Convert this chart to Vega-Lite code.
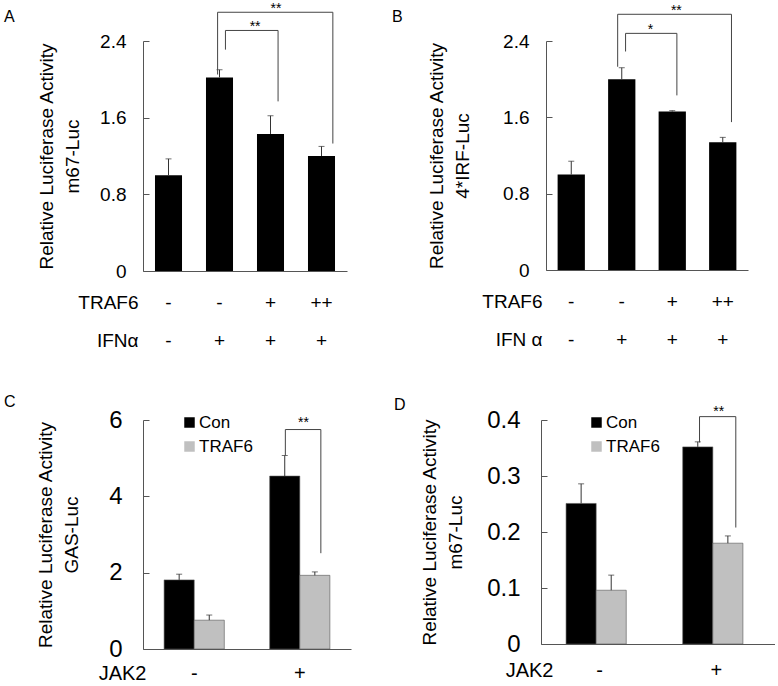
{
  "$schema": "https://vega.github.io/schema/vega-lite/v6.json",
  "padding": {"left": 4, "top": 2, "right": 0, "bottom": 0},
  "config": {
    "font": "Liberation Sans",
    "view": {"stroke": null},
    "axis": {"grid": false, "domainColor": "#555", "tickColor": "#555", "labelColor": "#000", "titleColor": "#000", "titleFontWeight": "normal", "labelFont": "Liberation Sans", "titleFont": "Liberation Sans"},
    "title": {"fontWeight": "normal", "fontSize": 16, "anchor": "start", "frame": "group", "font": "Liberation Sans"},
    "legend": {"labelFont": "Liberation Sans"}
  },
  "resolve": {"scale": {"color": "independent"}, "legend": {"color": "independent"}},
  "datasets": {
    "A": [
      {"cond": "-|-", "mean": 1.0, "upper": 1.17},
      {"cond": "-|+", "mean": 2.02, "upper": 2.1},
      {"cond": "+|+", "mean": 1.43, "upper": 1.62},
      {"cond": "++|+", "mean": 1.2, "upper": 1.3}
    ],
    "A_sig": [
      {"kind": "inner", "from": "-|+", "to": "+|+", "mid": "+|+", "top": 2.51, "left": 2.31, "right": 1.77, "label": "**"},
      {"kind": "outer", "from": "-|+", "to": "++|+", "mid": "+|+", "top": 2.7, "left": 2.05, "right": 1.33, "label": "**"}
    ],
    "B": [
      {"cond": "-|-", "mean": 1.0, "upper": 1.14},
      {"cond": "-|+", "mean": 2.0, "upper": 2.12},
      {"cond": "+|+", "mean": 1.66, "upper": 1.67},
      {"cond": "++|+", "mean": 1.34, "upper": 1.39}
    ],
    "B_sig": [
      {"kind": "inner", "from": "-|+", "to": "+|+", "mid": "+|+", "top": 2.48, "left": 2.29, "right": 1.83, "label": "*"},
      {"kind": "outer", "from": "-|+", "to": "++|+", "mid": "+|+", "top": 2.68, "left": 2.13, "right": 1.55, "label": "**"}
    ],
    "C": [
      {"jak2": "-", "group": "Con", "mean": 1.81, "upper": 1.96},
      {"jak2": "-", "group": "TRAF6", "mean": 0.755, "upper": 0.89},
      {"jak2": "+", "group": "Con", "mean": 4.53, "upper": 5.07},
      {"jak2": "+", "group": "TRAF6", "mean": 1.93, "upper": 2.02}
    ],
    "C_sig": [
      {"from": "+", "to": "+", "mid": "+", "top": 5.75, "left": 5.07, "right": 2.51, "label": "**"}
    ],
    "D": [
      {"jak2": "-", "group": "Con", "mean": 0.251, "upper": 0.286},
      {"jak2": "-", "group": "TRAF6", "mean": 0.096, "upper": 0.123},
      {"jak2": "+", "group": "Con", "mean": 0.352, "upper": 0.361},
      {"jak2": "+", "group": "TRAF6", "mean": 0.18, "upper": 0.193}
    ],
    "D_sig": [
      {"from": "+", "to": "+", "mid": "+", "top": 0.406, "left": 0.36, "right": 0.208, "label": "**"}
    ]
  },
  "spacing": 44,
  "vconcat": [
    {
      "spacing": 45,
      "resolve": {"scale": {"color": "independent"}, "legend": {"color": "independent"}},
      "hconcat": [
        {
          "width": 204, "height": 230,
          "title": {"text": "A", "dx": -139, "dy": 27},
          "layer": [
            {"data": {"name": "A"}, "mark": {"type": "bar", "color": "#000"},
             "encoding": {
               "x": {"field": "cond", "type": "nominal", "sort": null,
                     "scale": {"domain": ["-|-", "-|+", "+|+", "++|+"], "paddingInner": 0.47, "paddingOuter": 0.235},
                     "axis": {"labelExpr": "split(datum.label, '|')", "labelAngle": 0, "labelFontSize": 19, "labelLineHeight": 38, "labelPadding": 22, "ticks": false,
                              "title": ["TRAF6", "IFNα"], "titleFontSize": 19, "titleLineHeight": 38, "titleAlign": "right", "titleBaseline": "top", "titleX": -5, "titleY": 22}},
               "y": {"field": "mean", "type": "quantitative", "scale": {"domain": [0, 2.4]},
                     "axis": {"values": [0, 0.8, 1.6, 2.4], "format": ".1~f", "labelFontSize": 19, "tickSize": -6, "labelPadding": 23,
                              "title": ["Relative Luciferase Activity", "m67-Luc"], "titleFontSize": 19, "titleLineHeight": 26, "titlePadding": 17}}
             }},
            {"data": {"name": "A"}, "mark": {"type": "rule", "color": "#333"},
             "encoding": {"x": {"field": "cond", "type": "nominal"}, "y": {"field": "mean", "type": "quantitative"}, "y2": {"field": "upper"}}},
            {"data": {"name": "A"}, "mark": {"type": "tick", "color": "#333", "size": 6, "thickness": 1, "orient": "horizontal"},
             "encoding": {"x": {"field": "cond", "type": "nominal"}, "y": {"field": "upper", "type": "quantitative"}}},
            {"data": {"name": "A_sig"}, "transform": [{"filter": "datum.kind == 'inner'"}], "mark": {"type": "rule", "color": "#444"},
             "encoding": {"x": {"field": "from", "type": "nominal", "bandPosition": 0.72}, "x2": {"field": "to", "bandPosition": 0.78}, "y": {"field": "top", "type": "quantitative"}}},
            {"data": {"name": "A_sig"}, "transform": [{"filter": "datum.kind == 'inner'"}], "mark": {"type": "rule", "color": "#444"},
             "encoding": {"x": {"field": "from", "type": "nominal", "bandPosition": 0.72}, "y": {"field": "top", "type": "quantitative"}, "y2": {"field": "left"}}},
            {"data": {"name": "A_sig"}, "transform": [{"filter": "datum.kind == 'inner'"}], "mark": {"type": "rule", "color": "#444"},
             "encoding": {"x": {"field": "to", "type": "nominal", "bandPosition": 0.78}, "y": {"field": "top", "type": "quantitative"}, "y2": {"field": "right"}}},
            {"data": {"name": "A_sig"}, "transform": [{"filter": "datum.kind == 'inner'"}], "mark": {"type": "text", "fontSize": 14, "baseline": "alphabetic", "dy": 1},
             "encoding": {"x": {"field": "mid", "type": "nominal", "bandPosition": -0.07}, "y": {"field": "top", "type": "quantitative"}, "text": {"field": "label"}}},
            {"data": {"name": "A_sig"}, "transform": [{"filter": "datum.kind == 'outer'"}], "mark": {"type": "rule", "color": "#444"},
             "encoding": {"x": {"field": "from", "type": "nominal", "bandPosition": 0.43}, "x2": {"field": "to", "bandPosition": 0.92}, "y": {"field": "top", "type": "quantitative"}}},
            {"data": {"name": "A_sig"}, "transform": [{"filter": "datum.kind == 'outer'"}], "mark": {"type": "rule", "color": "#444"},
             "encoding": {"x": {"field": "from", "type": "nominal", "bandPosition": 0.43}, "y": {"field": "top", "type": "quantitative"}, "y2": {"field": "left"}}},
            {"data": {"name": "A_sig"}, "transform": [{"filter": "datum.kind == 'outer'"}], "mark": {"type": "rule", "color": "#444"},
             "encoding": {"x": {"field": "to", "type": "nominal", "bandPosition": 0.92}, "y": {"field": "top", "type": "quantitative"}, "y2": {"field": "right"}}},
            {"data": {"name": "A_sig"}, "transform": [{"filter": "datum.kind == 'outer'"}], "mark": {"type": "text", "fontSize": 14, "baseline": "alphabetic", "dy": 1},
             "encoding": {"x": {"field": "mid", "type": "nominal", "bandPosition": 0.7}, "y": {"field": "top", "type": "quantitative"}, "text": {"field": "label"}}}
          ]
        },
        {
          "width": 202, "height": 229,
          "title": {"text": "B", "dx": -154, "dy": 25},
          "layer": [
            {"data": {"name": "B"}, "mark": {"type": "bar", "color": "#000"},
             "encoding": {
               "x": {"field": "cond", "type": "nominal", "sort": null,
                     "scale": {"domain": ["-|-", "-|+", "+|+", "++|+"], "paddingInner": 0.46, "paddingOuter": 0.23},
                     "axis": {"labelExpr": "split(datum.label, '|')", "labelAngle": 0, "labelFontSize": 19, "labelLineHeight": 38, "labelPadding": 22, "ticks": false,
                              "title": ["TRAF6", "IFN α"], "titleFontSize": 19, "titleLineHeight": 38, "titleAlign": "right", "titleBaseline": "top", "titleX": -4, "titleY": 22}},
               "y": {"field": "mean", "type": "quantitative", "scale": {"domain": [0, 2.4]},
                     "axis": {"values": [0, 0.8, 1.6, 2.4], "format": ".1~f", "labelFontSize": 19, "tickSize": -6, "labelPadding": 23,
                              "title": ["Relative Luciferase Activity", "4*IRF-Luc"], "titleFontSize": 19, "titleLineHeight": 26, "titlePadding": 30}}
             }},
            {"data": {"name": "B"}, "mark": {"type": "rule", "color": "#333"},
             "encoding": {"x": {"field": "cond", "type": "nominal"}, "y": {"field": "mean", "type": "quantitative"}, "y2": {"field": "upper"}}},
            {"data": {"name": "B"}, "mark": {"type": "tick", "color": "#333", "size": 6, "thickness": 1, "orient": "horizontal"},
             "encoding": {"x": {"field": "cond", "type": "nominal"}, "y": {"field": "upper", "type": "quantitative"}}},
            {"data": {"name": "B_sig"}, "transform": [{"filter": "datum.kind == 'inner'"}], "mark": {"type": "rule", "color": "#444"},
             "encoding": {"x": {"field": "from", "type": "nominal", "bandPosition": 0.64}, "x2": {"field": "to", "bandPosition": 0.67}, "y": {"field": "top", "type": "quantitative"}}},
            {"data": {"name": "B_sig"}, "transform": [{"filter": "datum.kind == 'inner'"}], "mark": {"type": "rule", "color": "#444"},
             "encoding": {"x": {"field": "from", "type": "nominal", "bandPosition": 0.64}, "y": {"field": "top", "type": "quantitative"}, "y2": {"field": "left"}}},
            {"data": {"name": "B_sig"}, "transform": [{"filter": "datum.kind == 'inner'"}], "mark": {"type": "rule", "color": "#444"},
             "encoding": {"x": {"field": "to", "type": "nominal", "bandPosition": 0.67}, "y": {"field": "top", "type": "quantitative"}, "y2": {"field": "right"}}},
            {"data": {"name": "B_sig"}, "transform": [{"filter": "datum.kind == 'inner'"}], "mark": {"type": "text", "fontSize": 14, "baseline": "alphabetic", "dy": 1},
             "encoding": {"x": {"field": "mid", "type": "nominal", "bandPosition": -0.3}, "y": {"field": "top", "type": "quantitative"}, "text": {"field": "label"}}},
            {"data": {"name": "B_sig"}, "transform": [{"filter": "datum.kind == 'outer'"}], "mark": {"type": "rule", "color": "#444"},
             "encoding": {"x": {"field": "from", "type": "nominal", "bandPosition": 0.35}, "x2": {"field": "to", "bandPosition": 0.82}, "y": {"field": "top", "type": "quantitative"}}},
            {"data": {"name": "B_sig"}, "transform": [{"filter": "datum.kind == 'outer'"}], "mark": {"type": "rule", "color": "#444"},
             "encoding": {"x": {"field": "from", "type": "nominal", "bandPosition": 0.35}, "y": {"field": "top", "type": "quantitative"}, "y2": {"field": "left"}}},
            {"data": {"name": "B_sig"}, "transform": [{"filter": "datum.kind == 'outer'"}], "mark": {"type": "rule", "color": "#444"},
             "encoding": {"x": {"field": "to", "type": "nominal", "bandPosition": 0.82}, "y": {"field": "top", "type": "quantitative"}, "y2": {"field": "right"}}},
            {"data": {"name": "B_sig"}, "transform": [{"filter": "datum.kind == 'outer'"}], "mark": {"type": "text", "fontSize": 14, "baseline": "alphabetic", "dy": 1},
             "encoding": {"x": {"field": "mid", "type": "nominal", "bandPosition": 0.65}, "y": {"field": "top", "type": "quantitative"}, "text": {"field": "label"}}}
          ]
        }
      ]
    },
    {
      "spacing": 43,
      "resolve": {"scale": {"color": "independent"}, "legend": {"color": "independent"}},
      "hconcat": [
        {
          "width": 208, "height": 229,
          "title": {"text": "C", "dx": -139, "dy": 6},
          "layer": [
            {"data": {"name": "C"}, "mark": {"type": "bar", "stroke": "#555", "strokeWidth": 0.6},
             "encoding": {
               "x": {"field": "jak2", "type": "nominal", "sort": null,
                     "scale": {"domain": ["-", "+"], "paddingInner": 0.43, "paddingOuter": 0.2},
                     "axis": {"labelAngle": 0, "labelFontSize": 20, "labelPadding": 14, "ticks": false,
                              "title": "JAK2", "titleFontSize": 20, "titleAlign": "right", "titleBaseline": "top", "titleX": 3, "titleY": 14}},
               "xOffset": {"field": "group", "type": "nominal", "sort": null, "scale": {"domain": ["Con", "TRAF6"]}},
               "y": {"field": "mean", "type": "quantitative", "scale": {"domain": [0, 6]},
                     "axis": {"values": [0, 2, 4, 6], "labelFontSize": 24, "tickSize": -6, "labelPadding": 27,
                              "title": ["Relative Luciferase Activity", "GAS-Luc"], "titleFontSize": 19, "titleLineHeight": 26, "titlePadding": 27}},
               "color": {"field": "group", "type": "nominal",
                         "scale": {"domain": ["Con", "TRAF6"], "range": ["#000000", "#c0c0c0"]},
                         "legend": {"title": null, "orient": "none", "legendX": 38, "legendY": -6, "symbolType": "square", "symbolSize": 110, "symbolStrokeWidth": 0, "labelFontSize": 17, "rowPadding": 6, "labelOffset": 1, "padding": 0}}
             }},
            {"data": {"name": "C"}, "mark": {"type": "rule", "color": "#333"},
             "encoding": {"x": {"field": "jak2", "type": "nominal"}, "xOffset": {"field": "group", "type": "nominal"}, "y": {"field": "mean", "type": "quantitative"}, "y2": {"field": "upper"}}},
            {"data": {"name": "C"}, "mark": {"type": "tick", "color": "#333", "size": 6, "thickness": 1, "orient": "horizontal"},
             "encoding": {"x": {"field": "jak2", "type": "nominal"}, "xOffset": {"field": "group", "type": "nominal"}, "y": {"field": "upper", "type": "quantitative"}}},
            {"data": {"name": "C_sig"}, "mark": {"type": "rule", "color": "#444"},
             "encoding": {"x": {"field": "from", "type": "nominal", "bandPosition": 0.26}, "x2": {"field": "to", "bandPosition": 0.85}, "y": {"field": "top", "type": "quantitative"}}},
            {"data": {"name": "C_sig"}, "mark": {"type": "rule", "color": "#444"},
             "encoding": {"x": {"field": "from", "type": "nominal", "bandPosition": 0.26}, "y": {"field": "top", "type": "quantitative"}, "y2": {"field": "left"}}},
            {"data": {"name": "C_sig"}, "mark": {"type": "rule", "color": "#444"},
             "encoding": {"x": {"field": "to", "type": "nominal", "bandPosition": 0.85}, "y": {"field": "top", "type": "quantitative"}, "y2": {"field": "right"}}},
            {"data": {"name": "C_sig"}, "mark": {"type": "text", "fontSize": 14, "baseline": "alphabetic", "dy": -3},
             "encoding": {"x": {"field": "mid", "type": "nominal", "bandPosition": 0.56}, "y": {"field": "top", "type": "quantitative"}, "text": {"field": "label"}}}
          ]
        },
        {
          "width": 234, "height": 224,
          "title": {"text": "D", "dx": -147, "dy": 12},
          "layer": [
            {"data": {"name": "D"}, "mark": {"type": "bar", "stroke": "#555", "strokeWidth": 0.6},
             "encoding": {
               "x": {"field": "jak2", "type": "nominal", "sort": null,
                     "scale": {"domain": ["-", "+"], "paddingInner": 0.424, "paddingOuter": 0.215},
                     "axis": {"labelAngle": 0, "labelFontSize": 20, "labelPadding": 16, "ticks": false,
                              "title": "JAK2", "titleFontSize": 20, "titleAlign": "right", "titleBaseline": "top", "titleX": 12, "titleY": 16}},
               "xOffset": {"field": "group", "type": "nominal", "sort": null, "scale": {"domain": ["Con", "TRAF6"]}},
               "y": {"field": "mean", "type": "quantitative", "scale": {"domain": [0, 0.4]},
                     "axis": {"values": [0, 0.1, 0.2, 0.3, 0.4], "format": ".1~f", "labelFontSize": 24, "tickSize": -6, "labelPadding": 27,
                              "title": ["Relative Luciferase Activity", "m67-Luc"], "titleFontSize": 19, "titleLineHeight": 26, "titlePadding": 21}},
               "color": {"field": "group", "type": "nominal",
                         "scale": {"domain": ["Con", "TRAF6"], "range": ["#000000", "#c0c0c0"]},
                         "legend": {"title": null, "orient": "none", "legendX": 47, "legendY": -6, "symbolType": "square", "symbolSize": 110, "symbolStrokeWidth": 0, "labelFontSize": 17, "rowPadding": 6, "labelOffset": 1, "padding": 0}}
             }},
            {"data": {"name": "D"}, "mark": {"type": "rule", "color": "#333"},
             "encoding": {"x": {"field": "jak2", "type": "nominal"}, "xOffset": {"field": "group", "type": "nominal"}, "y": {"field": "mean", "type": "quantitative"}, "y2": {"field": "upper"}}},
            {"data": {"name": "D"}, "mark": {"type": "tick", "color": "#333", "size": 6, "thickness": 1, "orient": "horizontal"},
             "encoding": {"x": {"field": "jak2", "type": "nominal"}, "xOffset": {"field": "group", "type": "nominal"}, "y": {"field": "upper", "type": "quantitative"}}},
            {"data": {"name": "D_sig"}, "mark": {"type": "rule", "color": "#444"},
             "encoding": {"x": {"field": "from", "type": "nominal", "bandPosition": 0.25}, "x2": {"field": "to", "bandPosition": 0.79}, "y": {"field": "top", "type": "quantitative"}}},
            {"data": {"name": "D_sig"}, "mark": {"type": "rule", "color": "#444"},
             "encoding": {"x": {"field": "from", "type": "nominal", "bandPosition": 0.25}, "y": {"field": "top", "type": "quantitative"}, "y2": {"field": "left"}}},
            {"data": {"name": "D_sig"}, "mark": {"type": "rule", "color": "#444"},
             "encoding": {"x": {"field": "to", "type": "nominal", "bandPosition": 0.79}, "y": {"field": "top", "type": "quantitative"}, "y2": {"field": "right"}}},
            {"data": {"name": "D_sig"}, "mark": {"type": "text", "fontSize": 14, "baseline": "alphabetic", "dy": -1},
             "encoding": {"x": {"field": "mid", "type": "nominal", "bandPosition": 0.535}, "y": {"field": "top", "type": "quantitative"}, "text": {"field": "label"}}}
          ]
        }
      ]
    }
  ]
}
